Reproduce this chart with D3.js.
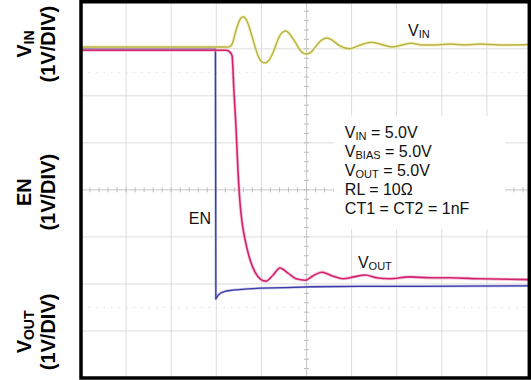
<!DOCTYPE html>
<html>
<head>
<meta charset="utf-8">
<script src="https://cdn.jsdelivr.net/npm/d3@7"></script>
<style>
  html, body { margin: 0; padding: 0; background: #fff; }
  svg { display: block; }
  text { font-family: "Liberation Sans", Arial, sans-serif; }
</style>
</head>
<body>
<svg id="chart" width="531" height="380"></svg>
<script>
// ---- Data (time in divisions, level in divisions from bottom of screen) ----
const vinTrace = [
  [0, 7.04], [2.64, 7.04], [3.28, 7.04], [3.35, 7.10], [3.44, 7.40], [3.53, 7.63],
  [3.59, 7.68], [3.68, 7.59], [3.77, 7.34], [3.86, 7.04], [3.95, 6.80], [4.01, 6.72],
  [4.08, 6.70], [4.17, 6.76], [4.28, 6.97], [4.39, 7.25], [4.48, 7.36], [4.55, 7.38],
  [4.63, 7.31], [4.75, 7.14], [4.86, 6.97], [4.99, 6.89], [5.10, 6.93], [5.23, 7.08],
  [5.34, 7.19], [5.45, 7.23], [5.59, 7.17], [5.74, 7.06], [5.96, 7.00], [6.19, 7.08],
  [6.45, 7.14], [6.70, 7.08], [6.92, 7.04], [7.12, 7.08], [7.32, 7.12], [7.56, 7.08],
  [7.85, 7.08], [8.18, 7.10], [8.51, 7.08], [8.85, 7.10], [9.29, 7.08], [10, 7.09]
];
const voutTrace = [
  [0, 6.97], [3.22, 6.97], [3.30, 6.93], [3.35, 6.85], [3.39, 6.12], [3.44, 5.27],
  [3.48, 4.42], [3.53, 3.68], [3.57, 3.32], [3.64, 2.93], [3.75, 2.51], [3.86, 2.25],
  [3.97, 2.11], [4.10, 2.06], [4.26, 2.19], [4.41, 2.34], [4.59, 2.23], [4.77, 2.11],
  [4.97, 2.08], [5.14, 2.17], [5.34, 2.25], [5.57, 2.17], [5.81, 2.11], [6.05, 2.15],
  [6.30, 2.19], [6.56, 2.13], [6.85, 2.11], [7.29, 2.15], [7.74, 2.13], [8.18, 2.13],
  [8.85, 2.11], [10, 2.09]
];
const enTrace = [
  [0, 7.00], [2.98, 7.00], [2.99, 1.68], [3.04, 1.76], [3.10, 1.81], [3.22, 1.85],
  [3.37, 1.87], [3.64, 1.89], [3.97, 1.91], [4.52, 1.92], [5.14, 1.94], [6.19, 1.95],
  [7.52, 1.95], [10, 1.96]
];
const xDivs = d3.range(0, 11);   // 10 horizontal divisions
const yDivs = d3.range(0, 9);    // 8 vertical divisions
const axisLabels = [
  { name: "V", sub: "IN", unit: "(1V/DIV)", center: 7.1 },
  { name: "EN", sub: "", unit: "(1V/DIV)", center: 3.95 },
  { name: "V", sub: "OUT", unit: "(1V/DIV)", center: 0.98 }
];
const infoLines = [
  ["V", "IN", " = 5.0V"],
  ["V", "BIAS", " = 5.0V"],
  ["V", "OUT", " = 5.0V"],
  ["RL = 10\u03A9", "", ""],
  ["CT1 = CT2 = 1nF", "", ""]
];
const traceLabels = [
  { main: "V", sub: "IN", x: 7.25, y: 7.27 },
  { main: "EN", sub: "", x: 2.39, y: 3.27 },
  { main: "V", sub: "OUT", x: 6.14, y: 2.34 }
];

// ---- Scales ----
const svg = d3.select("#chart");
const W = 531, H = 380;
const x = d3.scaleLinear().domain([0, 10]).range([81, 532]);
const y = d3.scaleLinear().domain([0, 8]).range([378, 1.75]);
const right = 529.3;

// clip
svg.append("defs").append("clipPath").attr("id", "plotclip")
  .append("rect").attr("x", x(0)).attr("y", y(8)).attr("width", right - x(0)).attr("height", y(0) - y(8));

const grid = svg.append("g");
// major grid
grid.selectAll("line.v").data(xDivs.filter(d => d > 0 && d < 10)).join("line")
  .attr("x1", d => x(d)).attr("x2", d => x(d)).attr("y1", y(8)).attr("y2", y(0))
  .attr("stroke", d => d === 5 ? "#c8c8c8" : "#dcdcdc").attr("stroke-width", 1);
grid.selectAll("line.h").data(yDivs.filter(d => d > 0 && d < 8)).join("line")
  .attr("x1", x(0)).attr("x2", right).attr("y1", d => y(d)).attr("y2", d => y(d))
  .attr("stroke", d => d === 4 ? "#c8c8c8" : "#dcdcdc").attr("stroke-width", 1);
// faint dotted rows
[6.5, 1.5].forEach(v => {
  grid.append("line").attr("x1", x(0)).attr("x2", right).attr("y1", y(v)).attr("y2", y(v))
    .attr("stroke", "#dedede").attr("stroke-width", 1).attr("stroke-dasharray", "1.5,6");
});
// center ticks
const minorX = d3.range(0, 50.001, 1).map(i => i / 5);
const minorY = d3.range(0, 40.001, 1).map(i => i / 5);
grid.selectAll("line.tx").data(minorX).join("line")
  .attr("x1", d => x(d)).attr("x2", d => x(d)).attr("y1", y(4) - 2.5).attr("y2", y(4) + 2.5)
  .attr("stroke", "#bdbdbd").attr("stroke-width", 1);
grid.selectAll("line.ty").data(minorY).join("line")
  .attr("x1", x(5) - 2.5).attr("x2", x(5) + 2.5).attr("y1", d => y(d)).attr("y2", d => y(d))
  .attr("stroke", "#bdbdbd").attr("stroke-width", 1);

// white box behind info text
svg.append("rect").attr("x", x(5.6)).attr("y", y(5.58)).attr("width", x(9.41) - x(5.6))
  .attr("height", y(3.17) - y(5.58)).attr("fill", "#fff");

// ---- Traces ----
const line = d3.line().x(d => x(d[0])).y(d => y(d[1]));
const traces = svg.append("g").attr("clip-path", "url(#plotclip)");
function drawTrace(data, halo, core, wHalo, wCore, curve) {
  line.curve(curve);
  traces.append("path").attr("d", line(data)).attr("fill", "none")
    .attr("stroke", halo).attr("stroke-width", wHalo).attr("stroke-linejoin", "round").attr("opacity", 0.6);
  traces.append("path").attr("d", line(data)).attr("fill", "none")
    .attr("stroke", core).attr("stroke-width", wCore).attr("stroke-linejoin", "round");
}
drawTrace(enTrace, "#9a9ad8", "#3a3aa8", 2.5, 1.3, d3.curveLinear);
drawTrace(voutTrace, "#f39cc0", "#d1246f", 3.2, 1.6, d3.curveMonotoneX);
drawTrace(vinTrace, "#f2ec9c", "#b9b24a", 3.4, 1.5, d3.curveMonotoneX);

// ---- Frame ----
svg.append("rect").attr("x", x(0)).attr("y", y(8)).attr("width", right - x(0)).attr("height", y(0) - y(8))
  .attr("fill", "none").attr("stroke", "#000").attr("stroke-width", 3.5);

// ---- Trace labels ----
traceLabels.forEach(l => {
  const t = svg.append("text").attr("x", x(l.x)).attr("y", y(l.y)).attr("font-size", 16).attr("fill", "#111");
  t.append("tspan").text(l.main);
  if (l.sub) t.append("tspan").attr("font-size", 11).attr("dy", 2).text(l.sub);
});

// ---- Info block ----
infoLines.forEach((ln, i) => {
  const t = svg.append("text").attr("x", x(5.85)).attr("y", y(5.10) + i * 19).attr("font-size", 16).attr("fill", "#111");
  t.append("tspan").text(ln[0]);
  if (ln[1]) t.append("tspan").attr("font-size", 11).attr("dy", 2).text(ln[1]);
  if (ln[2]) t.append("tspan").attr("dy", -2).text(ln[2]);
});

// ---- Left rotated axis labels ----
axisLabels.forEach(a => {
  const g = svg.append("g").attr("transform", `translate(0,${y(a.center)}) rotate(-90)`);
  const t1 = g.append("text").attr("x", 0).attr("y", 31).attr("text-anchor", "middle")
    .attr("font-size", 20).attr("font-weight", "bold").attr("fill", "#000");
  t1.append("tspan").text(a.name);
  if (a.sub) t1.append("tspan").attr("font-size", 14).attr("dy", 3).text(a.sub);
  g.append("text").attr("x", 0).attr("y", 55).attr("text-anchor", "middle")
    .attr("font-size", 20).attr("font-weight", "bold").attr("fill", "#000").text(a.unit);
});
</script>
</body>
</html>
